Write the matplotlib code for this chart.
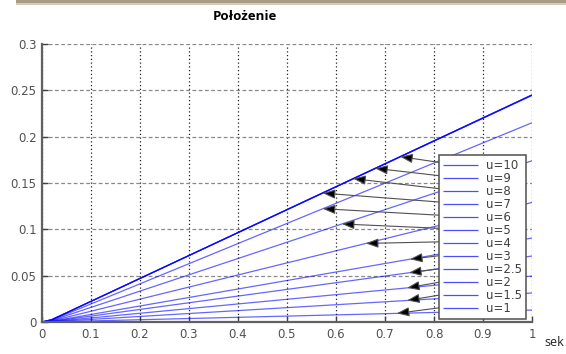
import numpy as np
import matplotlib
matplotlib.use("Agg")
import matplotlib.pyplot as plt
from matplotlib.patches import Rectangle

# ---- data ----
labels = ["u=10", "u=9", "u=8", "u=7", "u=6", "u=5", "u=4",
          "u=3", "u=2.5", "u=2", "u=1.5", "u=1"]
t_pts = [0.0, 0.02, 1.0]
pos_early = [0.0025, 0.0025, 0.0025, 0.0025, 0.0021, 0.0017, 0.0012,
             0.0008, 0.0006, 0.0004, 0.0003, 0.0001]
pos_end = [0.245, 0.245, 0.245, 0.2445, 0.215, 0.174, 0.129,
           0.0906, 0.0712, 0.0496, 0.0313, 0.0129]
# time at which each arrow points to its curve
arrow_t = [0.731, 0.680, 0.635, 0.573, 0.573, 0.612, 0.661,
           0.751, 0.749, 0.745, 0.745, 0.724]

xticks = [0, 0.1, 0.2, 0.3, 0.4, 0.5, 0.6, 0.7, 0.8, 0.9, 1]
xticklabels = ["0", "0.1", "0.2", "0.3", "0.4", "0.5", "0.6", "0.7", "0.8", "0.9", "1"]
yticks = [0, 0.05, 0.1, 0.15, 0.2, 0.25, 0.3]
yticklabels = ["0", "0.05", "0.1", "0.15", "0.2", "0.25", "0.3"]

W, H = 566, 354
fig = plt.figure(figsize=(W / 100, H / 100), dpi=100)
fig.patch.set_facecolor("white")
ax = fig.add_axes([42 / W, 1 - 322 / H, 490 / W, 278 / H])

for lab, e, v in zip(labels, pos_early, pos_end):
    ax.plot(t_pts, [0.0, e, v], color="#0000ff", lw=0.9, alpha=0.6,
            label=lab, solid_capstyle="butt")

ax.set_xlim(0, 1)
ax.set_ylim(0, 0.3)
ax.set_xticks(xticks)
ax.set_xticklabels(xticklabels)
ax.set_yticks(yticks)
ax.set_yticklabels(yticklabels)

ax.xaxis.grid(True, linestyle=(0, (1, 2)), color="#222222", lw=0.9)
ax.yaxis.grid(True, linestyle=(0, (3, 2)), color="#888888", lw=0.9)
ax.set_axisbelow(True)

for s in ["top", "right"]:
    ax.spines[s].set_visible(False)
for s in ["left", "bottom"]:
    ax.spines[s].set_color("#606060")
    ax.spines[s].set_linewidth(1.6)

ax.tick_params(direction="in", length=4, width=1, color="#404040",
               labelsize=8.5, labelcolor="#505050", pad=4)
for lbl in ax.get_xticklabels() + ax.get_yticklabels():
    lbl.set_family("DejaVu Sans")

leg = ax.legend(loc="lower right", bbox_to_anchor=(0.988, 0.011),
                borderaxespad=0, fontsize=8.5, handlelength=3.0,
                handletextpad=0.65, labelspacing=0.0, borderpad=0.35,
                fancybox=False, framealpha=1, edgecolor="#505050")
leg.get_frame().set_linewidth(1.1)
for txt in leg.get_texts():
    txt.set_color("#404040")
for h in leg.get_lines():
    h.set_alpha(0.7)

fig.canvas.draw()
renderer = fig.canvas.get_renderer()
inv = ax.transAxes.inverted()
for h, t, e, v in zip(leg.get_lines(), arrow_t, pos_early, pos_end):
    bb = h.get_window_extent(renderer)
    start = inv.transform((bb.x0 + 5, (bb.y0 + bb.y1) / 2 + 1))
    y = np.interp(t, t_pts, [0.0, e, v])
    ax.annotate("", xy=(t, y), xycoords="data",
                xytext=start, textcoords="axes fraction",
                arrowprops=dict(arrowstyle="-|>,head_length=0.75,head_width=0.28",
                                fc="black", ec="#505050", lw=0.8,
                                shrinkA=0, shrinkB=0),
                zorder=5)

fig.text(245 / W, 1 - 17 / H, "Położenie", ha="center", va="center",
         fontsize=9.5, fontweight="bold", family="Open Sans")
fig.text(554 / W, 1 - 343 / H, "sek", ha="center", va="center",
         fontsize=9, family="Open Sans", color="#222222")

# top decorative border
fig.add_artist(Rectangle((16 / W, 1 - 5 / H), 1 - 16 / W, 5 / H,
                         transform=fig.transFigure, color="#d6cbb3", lw=0))
fig.add_artist(Rectangle((16 / W, 1 - 2.5 / H), 1 - 16 / W, 2.5 / H,
                         transform=fig.transFigure, color="#a79c86", lw=0))

fig.savefig("out.png", dpi=100)
